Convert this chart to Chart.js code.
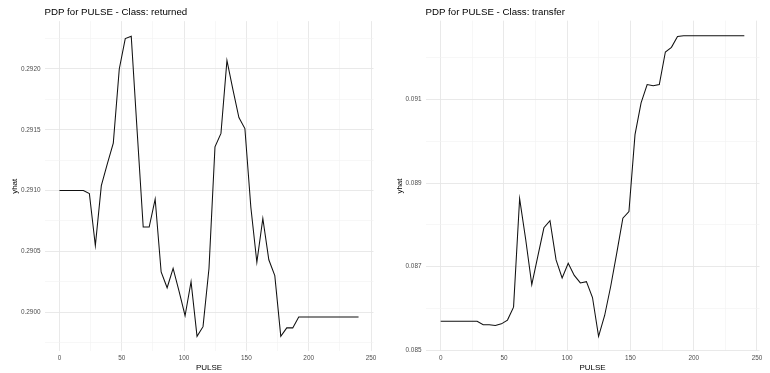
<!DOCTYPE html>
<html>
<head>
<meta charset="utf-8">
<script src="https://cdn.jsdelivr.net/npm/chart.js@4.4.1/dist/chart.umd.min.js"></script>
<style>
  html, body { margin: 0; padding: 0; background: #fff; }
  #wrap { position: relative; width: 770px; height: 373px; }
  canvas { position: absolute; top: 0; }
  #c-returned { left: 0; }
  #c-transfer { left: 385px; }
</style>
</head>
<body>
<div id="wrap">
  <canvas id="c-returned" width="385" height="373"></canvas>
  <canvas id="c-transfer" width="385" height="373"></canvas>
</div>
<script>
/* ================================================
   DATA
================================================ */

const pulse = [
  0, 4.8, 9.6, 14.4, 19.2, 24, 28.8, 33.6, 38.4, 43.2,
  48, 52.8, 57.6, 62.4, 67.2, 72, 76.8, 81.6, 86.4, 91.2,
  96, 100.8, 105.6, 110.4, 115.2, 120, 124.8, 129.6, 134.4, 139.2,
  144, 148.8, 153.6, 158.4, 163.2, 168, 172.8, 177.6, 182.4, 187.2,
  192, 196.8, 201.6, 206.4, 211.2, 216, 220.8, 225.6, 230.4, 235.2,
  240
];

const yhatReturned = [
  0.29100, 0.29100, 0.29100, 0.29100, 0.29100, 0.290975, 0.290547, 0.29104, 0.29122, 0.29139,
  0.29200, 0.29225, 0.29227, 0.29148, 0.29070, 0.29070, 0.29093, 0.29033, 0.29020, 0.29036,
  0.29017, 0.28997, 0.29025, 0.28980, 0.28988, 0.29036, 0.29136, 0.29147, 0.29207, 0.29183,
  0.29160, 0.29151, 0.29086, 0.29041, 0.29077, 0.29043, 0.29030, 0.28980, 0.28987, 0.28987,
  0.28996, 0.28996, 0.28996, 0.28996, 0.28996, 0.28996, 0.28996, 0.28996, 0.28996, 0.28996,
  0.28996
];

const yhatTransfer = [
  0.08569, 0.08569, 0.08569, 0.08569, 0.08569, 0.08569, 0.08569, 0.08561, 0.08561, 0.08559,
  0.08563, 0.08572, 0.08603, 0.08863, 0.08765, 0.08657, 0.08725, 0.08793, 0.08810, 0.08716,
  0.08673, 0.08708, 0.08679, 0.08661, 0.08664, 0.08626, 0.08533, 0.08583, 0.08653, 0.08733,
  0.08816, 0.08832, 0.09016, 0.09092, 0.09136, 0.09133, 0.09136, 0.09214, 0.09225, 0.09251,
  0.09253, 0.09253, 0.09253, 0.09253, 0.09253, 0.09253, 0.09253, 0.09253, 0.09253, 0.09253,
  0.09253
];

const xTicks      = [0, 50, 100, 150, 200, 250];
const xTickLabels = ['0', '50', '100', '150', '200', '250'];

const yTicksReturned      = [0.2900, 0.2905, 0.2910, 0.2915, 0.2920];
const yTickLabelsReturned = ['0.2900', '0.2905', '0.2910', '0.2915', '0.2920'];

const yTicksTransfer      = [0.085, 0.087, 0.089, 0.091];
const yTickLabelsTransfer = ['0.085', '0.087', '0.089', '0.091'];

/* ================================================
   HELPERS
================================================ */

const FONT = 'Liberation Sans, Arial, sans-serif';

/* ggplot-style 5% expansion */
function expand(vals) {
  const lo = Math.min(...vals), hi = Math.max(...vals);
  const pad = (hi - lo) * 0.05;
  return { min: lo - pad, max: hi + pad };
}

/* major ticks (with labels) + minor ticks halfway between */
function gridTicks(values, labels, min, max) {
  const step = values[1] - values[0];
  const out = [];
  for (let i = -1; i <= values.length; i++) {
    const v = values[0] + i * step;
    if (i >= 0 && i < values.length && v >= min && v <= max) out.push({ value: v, lbl: labels[i] });
    const m = v + step / 2;
    if (m >= min && m <= max) out.push({ value: m, lbl: '' });
  }
  return out.sort((a, b) => a.value - b.value);
}

function gridColor(ctx)  { return ctx.tick && ctx.tick.lbl ? '#e6e6e6' : '#f2f2f2'; }
function gridWidth(ctx)  { return ctx.tick && ctx.tick.lbl ? 0.9 : 0.6; }

/* ================================================
   BUILD ONE PANEL
================================================ */

function buildPanel(id, title, ys, yTicks, yLabels, yAxisWidth, padRight, titleBottom) {
  const xr = expand(pulse);
  const yr = expand(ys);

  return new Chart(document.getElementById(id).getContext('2d'), {
    type: 'scatter',
    data: {
      datasets: [{
        data:        pulse.map((x, i) => ({ x, y: ys[i] })),
        showLine:    true,
        borderColor: '#111',
        borderWidth: 1.05,
        pointRadius: 0,
        tension:     0,
      }],
    },
    options: {
      responsive: false,
      devicePixelRatio: 1,
      animation: false,
      layout: { padding: { left: 0, right: padRight, top: 0, bottom: 0 } },
      plugins: {
        legend:  { display: false },
        tooltip: { enabled: false },
        title: {
          display:  true,
          text:     title,
          align:    'start',
          fullSize: false,
          color:    '#000',
          font:     { family: FONT, size: 9.7, weight: 'normal' },
          padding:  { top: 7, bottom: titleBottom },
        },
      },
      scales: {
        x: {
          type: 'linear',
          min: xr.min,
          max: xr.max,
          afterBuildTicks: axis => { axis.ticks = gridTicks(xTicks, xTickLabels, xr.min, xr.max); },
          afterFit: axis => { axis.height = 21.6; },
          ticks: {
            autoSkip: false,
            maxRotation: 0,
            padding: 3,
            color: '#4d4d4d',
            font: { family: FONT, size: 6.4 },
            callback: (v, i, t) => t[i].lbl || '',
          },
          grid:   { drawTicks: false, color: gridColor, lineWidth: gridWidth },
          border: { display: false },
          title: {
            display: true,
            text:    'PULSE',
            color:   '#000',
            font:    { family: FONT, size: 8 },
            padding: { top: 0, bottom: 0.5 },
          },
        },
        y: {
          type: 'linear',
          min: yr.min,
          max: yr.max,
          afterBuildTicks: axis => { axis.ticks = gridTicks(yTicks, yLabels, yr.min, yr.max); },
          afterFit: axis => { axis.width = yAxisWidth; },
          ticks: {
            autoSkip: false,
            padding: 4,
            color: '#4d4d4d',
            font: { family: FONT, size: 6.4 },
            callback: (v, i, t) => t[i].lbl || '',
          },
          grid:   { drawTicks: false, color: gridColor, lineWidth: gridWidth },
          border: { display: false },
          title: {
            display: true,
            text:    'yhat',
            color:   '#000',
            font:    { family: FONT, size: 8 },
            padding: { top: 9.7, bottom: 0 },
          },
        },
      },
    },
  });
}

buildPanel('c-returned', 'PDP for PULSE - Class: returned',
  yhatReturned, yTicksReturned, yTickLabelsReturned, 44.5, 11.5, 2.5);

buildPanel('c-transfer', 'PDP for PULSE - Class: transfer',
  yhatTransfer, yTicksTransfer, yTickLabelsTransfer, 40.5, 10.5, 2);
</script>
</body>
</html>
